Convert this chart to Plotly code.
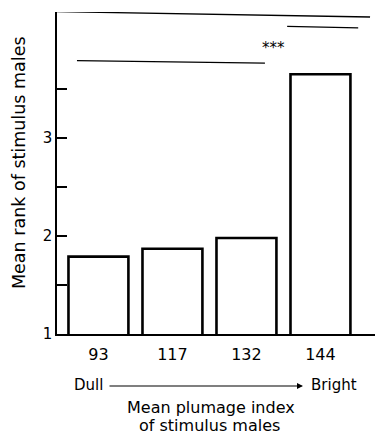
import plotly.graph_objects as go

# Data
categories = ["93", "117", "132", "144"]
mean_rank = [1.79, 1.87, 1.98, 3.65]
y_tick_vals = [1, 1.5, 2, 2.5, 3, 3.5]
y_tick_text = ["1", "", "2", "", "3", ""]

FONT = "DejaVu Sans"
x_pos = list(range(len(categories)))

fig = go.Figure()
fig.add_trace(go.Bar(
    x=x_pos, y=mean_rank, width=0.81,
    marker=dict(color="white", line=dict(color="black", width=2.6)),
    hoverinfo="skip",
))

# plot area geometry
W, H = 378, 436
L, R, T, B = 57, 3, 12, 102
pw, ph = W - L - R, H - T - B

def px_x(px):
    return (px - L) / pw

def px_y(py):
    return (H - B - py) / ph

shapes = [
    # top line
    dict(type="line", xref="x", yref="y", x0=-0.56, y0=4.29, x1=3.67, y1=4.235,
         line=dict(color="black", width=1.3)),
    # significance lines
    dict(type="line", xref="x", yref="y", x0=-0.29, y0=3.79, x1=2.25, y1=3.765,
         line=dict(color="black", width=1.3)),
    dict(type="line", xref="x", yref="y", x0=2.55, y0=4.14, x1=3.51, y1=4.125,
         line=dict(color="black", width=1.3)),
]

def txt(text, x, y, size, angle=0):
    return dict(text=text, xref="paper", yref="paper", x=px_x(x), y=px_y(y),
                xanchor="center", yanchor="middle", textangle=angle,
                showarrow=False, font=dict(family=FONT, size=size, color="black"))

annotations = [
    dict(text="***", xref="x", yref="y", x=2.37, y=3.92, showarrow=False,
         xanchor="center", yanchor="middle",
         font=dict(family=FONT, size=15, color="black")),
    txt("Mean rank of stimulus males", 19, 163, 17.5, -90),
    txt("Dull", 88, 385, 15),
    txt("Bright", 334, 385, 15),
    dict(text="", xref="paper", yref="paper", x=px_x(303), y=px_y(386),
         axref="pixel", ayref="pixel", ax=-(303 - 108), ay=0,
         showarrow=True, arrowhead=2, arrowsize=1, arrowwidth=1.2,
         arrowcolor="black"),
    txt("Mean plumage index", 211, 407, 16),
    txt("of stimulus males", 209, 426, 16),
]

fig.update_layout(
    width=W, height=H,
    margin=dict(l=L, r=R, t=T, b=B, pad=0),
    paper_bgcolor="white", plot_bgcolor="white",
    showlegend=False,
    shapes=shapes, annotations=annotations,
    xaxis=dict(range=[-0.56, 3.737], tickvals=x_pos, ticktext=categories,
               showline=True, linecolor="black", linewidth=1.5,
               ticks="", showgrid=False, zeroline=False,
               ticklabelstandoff=5,
               tickfont=dict(family=FONT, size=16, color="black")),
    yaxis=dict(range=[1, 4.286], tickvals=y_tick_vals, ticktext=y_tick_text,
               showline=True, linecolor="black", linewidth=1.5,
               ticks="inside", ticklen=10, tickwidth=1.5, tickcolor="black",
               showgrid=False, zeroline=False,
               tickfont=dict(family=FONT, size=15, color="black")),
)

fig.write_html("out.html", config={"displayModeBar": False},
               post_script="document.body.style.margin='0';")
